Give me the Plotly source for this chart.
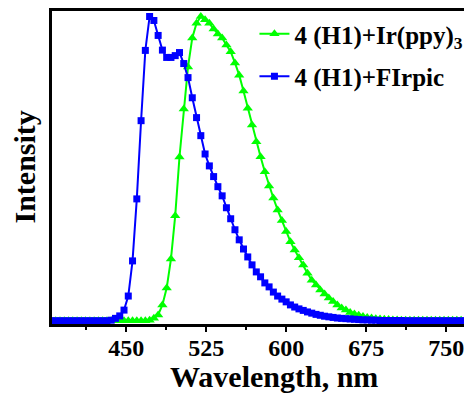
import plotly.graph_objects as go

wavelength = [380, 384, 388, 392, 396, 400, 404, 408, 412, 416,
              420, 424, 428, 432, 436, 440, 444, 448, 452, 456,
              460, 464, 468, 472, 476, 480, 484, 488, 492, 496,
              500, 504, 508, 512, 516, 520, 524, 528, 532, 536,
              540, 544, 548, 552, 556, 560, 564, 568, 572, 576,
              580, 584, 588, 592, 596, 600, 604, 608, 612, 616,
              620, 624, 628, 632, 636, 640, 644, 648, 652, 656,
              660, 664, 668, 672, 676, 680, 684, 688, 692, 696,
              700, 704, 708, 712, 716, 720, 724, 728, 732, 736,
              740, 744, 748, 752, 756, 760, 764, 768, 772, 776,
              780]

firpic = [0.004, 0.004, 0.004, 0.004, 0.004, 0.004, 0.004, 0.004, 0.004, 0.004,
          0.004, 0.004, 0.004, 0.004, 0.006, 0.012, 0.020, 0.039, 0.085, 0.200,
          0.403, 0.659, 0.889, 1.000, 0.987, 0.938, 0.890, 0.866, 0.866, 0.872,
          0.882, 0.846, 0.800, 0.734, 0.669, 0.610, 0.550, 0.511, 0.476, 0.443,
          0.413, 0.374, 0.338, 0.302, 0.269, 0.239, 0.213, 0.187, 0.164, 0.148,
          0.128, 0.115, 0.098, 0.085, 0.075, 0.066, 0.056, 0.049, 0.043, 0.038,
          0.033, 0.029, 0.025, 0.022, 0.019, 0.017, 0.015, 0.013, 0.012, 0.011,
          0.010, 0.009, 0.008, 0.007, 0.007, 0.006, 0.006, 0.005, 0.005, 0.005,
          0.005, 0.005, 0.005, 0.004, 0.004, 0.004, 0.004, 0.004, 0.004, 0.004,
          0.004, 0.004, 0.004, 0.004, 0.004, 0.004, 0.004, 0.004, 0.004, 0.004,
          0.004]

irppy = [0.004, 0.004, 0.004, 0.004, 0.004, 0.004, 0.004, 0.004, 0.004, 0.004,
         0.004, 0.004, 0.004, 0.004, 0.004, 0.004, 0.004, 0.004, 0.004, 0.004,
         0.004, 0.004, 0.004, 0.006, 0.012, 0.023, 0.056, 0.111, 0.206, 0.348,
         0.540, 0.697, 0.835, 0.930, 0.978, 1.000, 0.989, 0.978, 0.959, 0.943,
         0.930, 0.907, 0.885, 0.848, 0.808, 0.756, 0.700, 0.645, 0.590, 0.541,
         0.492, 0.445, 0.406, 0.367, 0.332, 0.296, 0.263, 0.236, 0.210, 0.187,
         0.160, 0.137, 0.121, 0.105, 0.092, 0.079, 0.067, 0.056, 0.046, 0.039,
         0.031, 0.026, 0.022, 0.018, 0.015, 0.013, 0.011, 0.010, 0.009, 0.008,
         0.007, 0.007, 0.006, 0.006, 0.006, 0.006, 0.006, 0.006, 0.006, 0.006,
         0.006, 0.006, 0.006, 0.006, 0.006, 0.006, 0.006, 0.006, 0.006, 0.006,
         0.006]

tick_vals = [450, 525, 600, 675, 750]
tick_text = ["<b>450</b>", "<b>525</b>", "<b>600</b>", "<b>675</b>", "<b>750</b>"]

names = ["<b>4 (H1)+Ir(ppy)<sub>3</sub></b>", "<b>4 (H1)+FIrpic</b>"]
x_title = "<b>Wavelength, nm</b>"
y_title = "<b>Intensity</b>"

FONT = "Liberation Serif, Times New Roman, serif"

fig = go.Figure()
fig.add_trace(go.Scatter(
    x=wavelength, y=irppy, name=names[0], mode="lines+markers",
    line=dict(color="#00ff00", width=2),
    marker=dict(symbol="triangle-up", size=9, color="#00ff00"),
    legendgroup="a"))
fig.add_trace(go.Scatter(
    x=wavelength, y=firpic, name=names[1], mode="lines+markers",
    line=dict(color="#0000ff", width=2),
    marker=dict(symbol="square", size=7, color="#0000ff"),
    legendgroup="b"))

fig.update_layout(
    width=472, height=385,
    margin=dict(l=44, r=0, t=3, b=69, autoexpand=False),
    paper_bgcolor="white", plot_bgcolor="white",
    font=dict(family=FONT, color="black"),
    showlegend=True,
    legend=dict(x=0.473, y=1.0, xanchor="left", yanchor="top",
                bgcolor="rgba(0,0,0,0)", font=dict(size=25, family=FONT),
                tracegroupgap=7, itemwidth=30),
    xaxis=dict(range=[380.5, 781.7], showgrid=False, zeroline=False, automargin=False,
               showline=True, linecolor="black", linewidth=3, mirror=True,
               ticks="outside", ticklen=5, tickwidth=2, tickcolor="black",
               tickvals=tick_vals, ticktext=tick_text, ticklabelstandoff=-5,
               tickfont=dict(size=24, family=FONT),
               minor=dict(dtick=37.5, tick0=450, ticks="outside", ticklen=3, tickwidth=2, tickcolor="black")),
    yaxis=dict(range=[-0.0065, 1.018], showgrid=False, zeroline=False, automargin=False,
               showline=True, linecolor="black", linewidth=3, mirror=False,
               ticks="", showticklabels=False),
    annotations=[
        dict(text=x_title, xref="paper", yref="paper", x=0.5, y=0, xanchor="center", yanchor="middle",
             showarrow=False, font=dict(size=30, family=FONT), xshift=8, yshift=-52),
        dict(text=y_title, xref="paper", yref="paper", x=0, y=0.5, xanchor="center", yanchor="middle",
             showarrow=False, textangle=-90, font=dict(size=30, family=FONT), xshift=-28),
    ],
)

fig.write_html("out.html")
